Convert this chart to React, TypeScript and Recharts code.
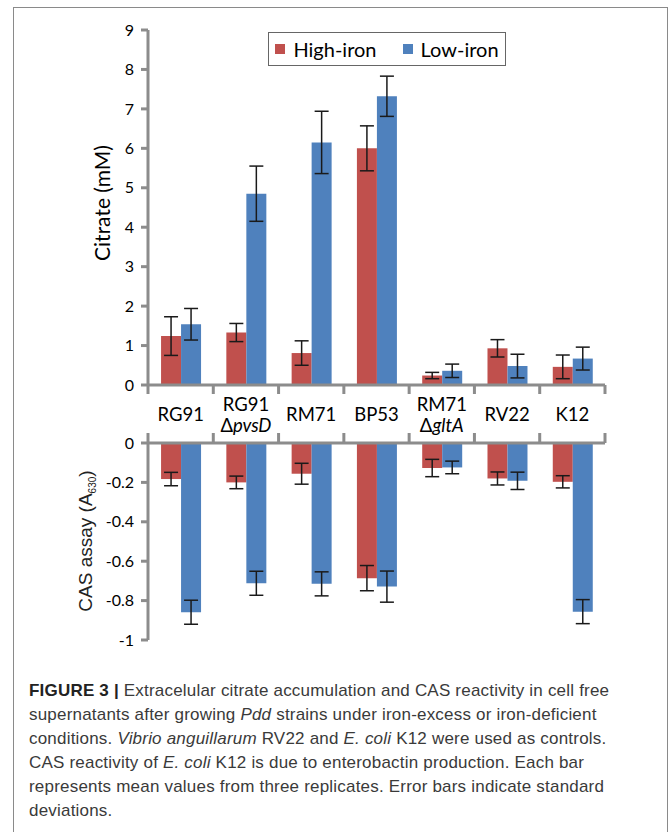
import React from 'react';
import { BarChart, Bar, XAxis, YAxis, Legend, ErrorBar } from 'recharts';

// strains on the x axis (deletion shown on a second line, italic)
const strains = ['RG91', 'RG91', 'RM71', 'BP53', 'RM71', 'RV22', 'K12'];
const deletions = ['', 'pvsD', '', '', 'gltA', '', ''];

// citrate (mM), mean and SD
const citrateHigh = [1.24, 1.33, 0.81, 6.0, 0.24, 0.93, 0.46];
const citrateHighSd = [0.49, 0.23, 0.31, 0.57, 0.08, 0.22, 0.3];
const citrateLow = [1.54, 4.85, 6.15, 7.32, 0.36, 0.48, 0.67];
const citrateLowSd = [0.4, 0.7, 0.79, 0.51, 0.17, 0.3, 0.29];

// CAS assay (A630), mean and SD
const casHigh = [-0.183, -0.2, -0.156, -0.686, -0.127, -0.18, -0.197];
const casHighSd = [0.034, 0.032, 0.053, 0.064, 0.044, 0.033, 0.031];
const casLow = [-0.859, -0.712, -0.715, -0.729, -0.124, -0.192, -0.856];
const casLowSd = [0.061, 0.061, 0.061, 0.079, 0.032, 0.044, 0.061];

const citrateTicks = [0, 1, 2, 3, 4, 5, 6, 7, 8, 9];
const casTicks = [-1, -0.8, -0.6, -0.4, -0.2, 0];

const RED = '#C0504D';
const BLUE = '#4F81BD';
const AXIS = '#8c8c8c';
const FONT = 'Lato, "Noto Sans", sans-serif';

const W = 670;
const PLOT_LEFT = 148;
const PLOT_RIGHT = 605;
const Y_AXIS_W = 60;
const BAND = (PLOT_RIGHT - PLOT_LEFT) / strains.length;
const TOP_AXIS_Y = 385;
const BOTTOM_AXIS_Y = 23;

const names = strains.map((s, i) => (deletions[i] ? `${s} Δ${deletions[i]}` : s));

const citrateData = names.map((name, i) => ({
  name,
  high: citrateHigh[i],
  highSd: citrateHighSd[i],
  low: citrateLow[i],
  lowSd: citrateLowSd[i],
}));

const casData = names.map((name, i) => ({
  name,
  high: casHigh[i],
  highSd: casHighSd[i],
  low: casLow[i],
  lowSd: casLowSd[i],
}));

const boundaryTicks = (x: number, index: number, y1: number, y2: number) => (
  <>
    {index === 0 && (
      <line x1={x - BAND / 2} x2={x - BAND / 2} y1={y1} y2={y2} stroke={AXIS} strokeWidth={3} />
    )}
    <line x1={x + BAND / 2} x2={x + BAND / 2} y1={y1} y2={y2} stroke={AXIS} strokeWidth={3} />
  </>
);

const CategoryTick = (props: any) => {
  const { x, index } = props;
  const i = index as number;
  const textProps = { x, textAnchor: 'middle' as const, fill: '#000', fontSize: 18.5, fontFamily: FONT };
  return (
    <g>
      {boundaryTicks(x, i, TOP_AXIS_Y, TOP_AXIS_Y + 9)}
      {deletions[i] ? (
        <>
          <text {...textProps} y={411}>{strains[i]}</text>
          <text {...textProps} y={432}>
            Δ<tspan fontStyle="italic">{deletions[i]}</tspan>
          </text>
        </>
      ) : (
        <text {...textProps} y={421}>{strains[i]}</text>
      )}
    </g>
  );
};

const TopTick = (props: any) => {
  const { x, index } = props;
  return <g>{boundaryTicks(x, index, BOTTOM_AXIS_Y, BOTTOM_AXIS_Y - 10)}</g>;
};

const LegendBox = (props: any) => {
  const { payload } = props;
  return (
    <div
      style={{
        border: '1.3px solid #666',
        height: 34,
        display: 'flex',
        alignItems: 'center',
        justifyContent: 'center',
        gap: 26,
        fontFamily: FONT,
        fontSize: 20,
        color: '#000',
        boxSizing: 'border-box',
      }}
    >
      {(payload || []).map((p: any) => (
        <span key={p.value} style={{ display: 'flex', alignItems: 'center' }}>
          <span style={{ width: 10, height: 10, background: p.color, marginRight: 8 }} />
          {p.value}
        </span>
      ))}
    </div>
  );
};

const tickStyle = { fill: '#000', fontSize: 16, fontFamily: FONT };
const axisLine = { stroke: AXIS, strokeWidth: 3 };

export default function App() {
  return (
    <div
      style={{
        position: 'absolute',
        left: 0,
        top: 0,
        width: 670,
        height: 832,
        overflow: 'hidden',
        background: '#fff',
      }}
    >
      <div
        style={{
          position: 'absolute',
          left: 13,
          top: 7,
          width: 653,
          height: 900,
          border: '1.5px solid #8a8a8a',
        }}
      />

      <div style={{ position: 'absolute', left: 0, top: 0 }}>
        <BarChart
          width={W}
          height={440}
          data={citrateData}
          margin={{ top: 30, right: W - PLOT_RIGHT, left: PLOT_LEFT - Y_AXIS_W, bottom: 0 }}
          barCategoryGap="20%"
          barGap={0}
        >
          <XAxis dataKey="name" height={55} axisLine={axisLine} tickLine={false} interval={0} tick={<CategoryTick />} />
          <YAxis
            width={Y_AXIS_W}
            domain={[0, 9]}
            ticks={citrateTicks}
            interval={0}
            axisLine={axisLine}
            tickLine={axisLine}
            tickSize={7}
            tickMargin={7}
            tick={tickStyle}
            label={{
              value: 'Citrate (mM)',
              angle: -90,
              position: 'insideLeft',
              content: () => (
                <text
                  x={110}
                  y={203}
                  transform="rotate(-90 110 203)"
                  textAnchor="middle"
                  fontSize={21}
                  fontFamily={FONT}
                  fill="#000"
                >
                  Citrate (mM)
                </text>
              ),
            }}
          />
          <Legend
            verticalAlign="middle"
            align="center"
            content={<LegendBox />}
            wrapperStyle={{ left: 268, top: 32, width: 238, height: 36 }}
          />
          <Bar dataKey="high" name="High-iron" fill={RED} isAnimationActive={false}>
            <ErrorBar dataKey="highSd" width={7} stroke="#1a1a1a" strokeWidth={1.5} />
          </Bar>
          <Bar dataKey="low" name="Low-iron" fill={BLUE} isAnimationActive={false}>
            <ErrorBar dataKey="lowSd" width={7} stroke="#1a1a1a" strokeWidth={1.5} />
          </Bar>
        </BarChart>
      </div>

      <div style={{ position: 'absolute', left: 0, top: 420 }}>
        <BarChart
          width={W}
          height={240}
          data={casData}
          margin={{ top: 10, right: W - PLOT_RIGHT, left: PLOT_LEFT - Y_AXIS_W, bottom: 20 }}
          barCategoryGap="20%"
          barGap={0}
        >
          <XAxis dataKey="name" orientation="top" height={13} axisLine={axisLine} tickLine={false} interval={0} tick={<TopTick />} />
          <YAxis
            width={Y_AXIS_W}
            domain={[-1, 0]}
            ticks={casTicks}
            interval={0}
            axisLine={axisLine}
            tickLine={axisLine}
            tickSize={7}
            tickMargin={7}
            tick={tickStyle}
            label={{
              value: 'CAS assay',
              position: 'insideLeft',
              content: () => (
                <text
                  x={92}
                  y={121}
                  transform="rotate(-90 92 121)"
                  textAnchor="middle"
                  fontSize={19}
                  fontFamily='"Liberation Sans", Arial, sans-serif'
                  fill="#222"
                >
                  CAS assay (A
                  <tspan fontSize={10} dy={4}>630</tspan>
                  <tspan dy={-4}>)</tspan>
                </text>
              ),
            }}
          />
          <Bar dataKey="high" name="High-iron" fill={RED} isAnimationActive={false}>
            <ErrorBar dataKey="highSd" width={7} stroke="#1a1a1a" strokeWidth={1.5} />
          </Bar>
          <Bar dataKey="low" name="Low-iron" fill={BLUE} isAnimationActive={false}>
            <ErrorBar dataKey="lowSd" width={7} stroke="#1a1a1a" strokeWidth={1.5} />
          </Bar>
        </BarChart>
      </div>

      <div
        style={{
          position: 'absolute',
          left: 29,
          top: 679,
          fontFamily: '"Liberation Sans", Arial, sans-serif',
          fontSize: 17,
          letterSpacing: 0.2,
          lineHeight: '24px',
          color: '#3a3a3a',
          whiteSpace: 'nowrap',
        }}
      >
        <div>
          <b style={{ color: '#222' }}>FIGURE 3 |</b> Extracelular citrate accumulation and CAS reactivity in cell free
        </div>
        <div>
          supernatants after growing <i>Pdd</i> strains under iron-excess or iron-deficient
        </div>
        <div>
          conditions. <i>Vibrio anguillarum</i> RV22 and <i>E. coli</i> K12 were used as controls.
        </div>
        <div>
          CAS reactivity of <i>E. coli</i> K12 is due to enterobactin production. Each bar
        </div>
        <div>represents mean values from three replicates. Error bars indicate standard</div>
        <div>deviations.</div>
      </div>
    </div>
  );
}
